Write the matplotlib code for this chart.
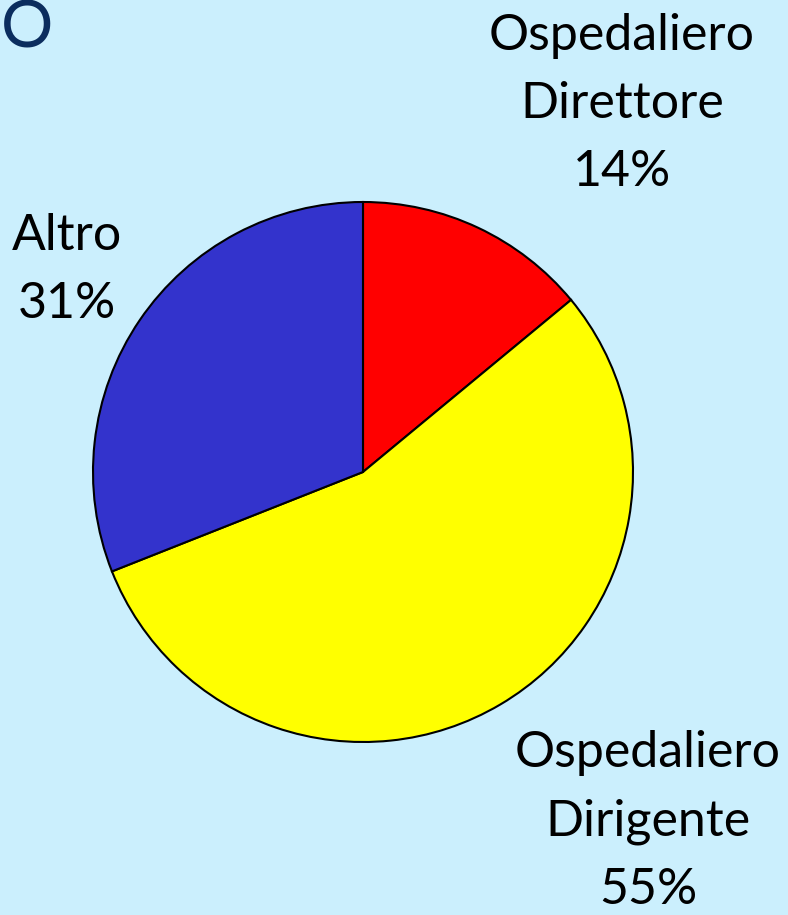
import matplotlib
matplotlib.use("Agg")
import matplotlib.pyplot as plt

# Data
labels = ["Ospedaliero\nDirettore", "Ospedaliero\nDirigente", "Altro"]
shares = [14, 55, 31]
colors = ["#FF0000", "#FFFF00", "#3333CC"]

BG = "#CBEFFD"
W, H = 788, 915

plt.rcParams["font.family"] = ["Lato", "DejaVu Sans"]

fig = plt.figure(figsize=(W / 100, H / 100), dpi=100, facecolor=BG)
ax = fig.add_axes([0, 0, 1, 1])
ax.set_facecolor(BG)
ax.axis("off")

ax.pie(shares, colors=colors, startangle=90, counterclock=False,
       center=(363, H - 472), radius=270,
       wedgeprops=dict(edgecolor="black", linewidth=1.5))
ax.set_xlim(0, W)
ax.set_ylim(0, H)
ax.set_aspect("equal")

# clipped title letter at top left
ax.text(1, H - 47, "O", color="#0B2D5E", fontsize=47, ha="left", va="baseline")

# labels with percentages (anchored at the baseline of the last line)
label_pos = [(622, H - 186), (648, H - 904), (67, H - 318)]
for lab, val, (x, y) in zip(labels, shares, label_pos):
    ax.text(x, y, f"{lab}\n{val}%", ha="center", va="baseline", fontsize=36,
            linespacing=1.6, color="black", multialignment="center")

fig.savefig("out.png", dpi=100, facecolor=BG)
